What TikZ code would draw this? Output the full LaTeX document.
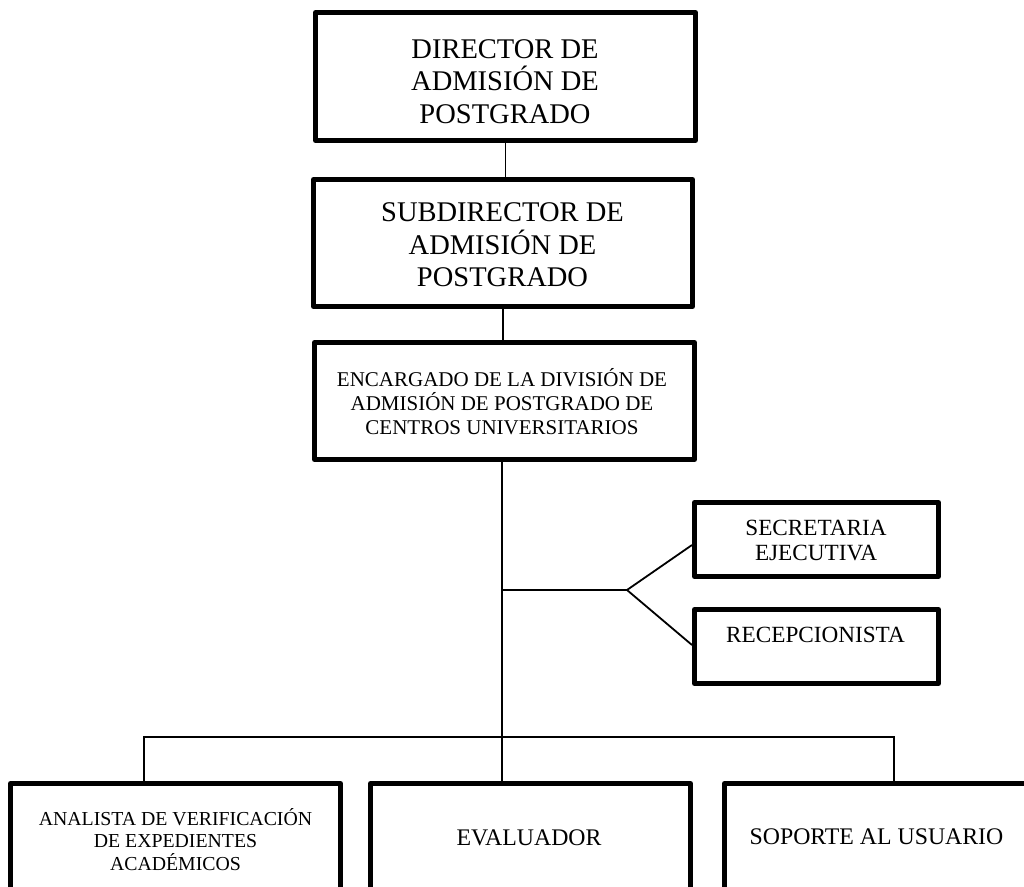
\documentclass[tikz,border=0pt]{standalone}
\usepackage{fontspec}
\setmainfont{Liberation Serif}
\begin{document}
\begin{tikzpicture}[x=1pt,y=-1pt,
  box/.style={draw, line width=5pt, line join=round, rectangle, inner sep=0pt},
  conn/.style={draw, line width=1.8pt},
  txt/.style={align=center, inner sep=0pt},
  fbig/.style={font=\fontsize{28.5}{32.5}\selectfont},
  fmid/.style={font=\fontsize{21}{24}\selectfont},
  fsec/.style={font=\fontsize{23.2}{25}\selectfont},
  fana/.style={font=\fontsize{19.8}{22.5}\selectfont},
  fbot/.style={font=\fontsize{23.8}{26}\selectfont}]
\useasboundingbox (0,0) rectangle (1024,886);
\fill[white] (0,0) rectangle (1024,886);
\clip (0,0) rectangle (1024,886);

% boxes
\node[box, minimum width=380pt, minimum height=128pt] (dir) at (505.5,76.5) {};
\node[box, minimum width=379pt, minimum height=127pt] (sub) at (503,243) {};
\node[box, minimum width=380pt, minimum height=117pt] (enc) at (504.5,401) {};
\node[box, minimum width=244pt, minimum height=74pt] (sec) at (816.5,539.5) {};
\node[box, minimum width=244pt, minimum height=74pt] (rec) at (816.5,646.5) {};
\node[box, minimum width=330pt, minimum height=140pt] (ana) at (175.5,853.5) {};
\node[box, minimum width=320pt, minimum height=140pt] (eva) at (530.5,853.5) {};
\node[box, minimum width=306pt, minimum height=140pt] (sop) at (877.5,853.5) {};

% texts
\node[txt, fbig] (dirt) at (505,81.5) {DIRECTOR DE\\ADMISIÓN DE\\POSTGRADO};
\node[txt, fbig] (subt) at (502.5,245) {SUBDIRECTOR DE\\ADMISIÓN DE\\POSTGRADO};
\node[txt, fmid] (enct) at (502,402) {ENCARGADO DE LA DIVISIÓN DE\\ADMISIÓN DE POSTGRADO DE\\CENTROS UNIVERSITARIOS};
\node[txt, fsec] (sect) at (816,540.5) {SECRETARIA\\EJECUTIVA};
\node[txt, fsec] (rect) at (815.5,635) {RECEPCIONISTA};
\node[txt, fana] (anat) at (175.5,839.5) {ANALISTA DE VERIFICACIÓN\\DE EXPEDIENTES\\ACADÉMICOS};
\node[txt, fbot] (evat) at (529,838) {EVALUADOR};
\node[txt, fbot] (sopt) at (876.5,837) {SOPORTE AL USUARIO};

% connector coordinates
\coordinate (spine) at (502,0);
\coordinate (fork) at (627,590);
\coordinate (dA) at (144,737);
\coordinate (dS) at (894,737);

% connectors
\draw[conn] (dir.south) -- (dir.south |- sub.north);
\draw[conn] (sub.south) -- (sub.south |- enc.north);
\draw[conn] (spine |- enc.south) -- (spine |- eva.north);
\draw[conn] (spine |- fork) -- (fork) -- ([yshift=-5.5pt]sec.west);
\draw[conn] (fork) -- ([yshift=1.5pt]rec.west);
\draw[conn] (dA |- ana.north) -- (dA) -- (dS) -- (dS |- sop.north);
\end{tikzpicture}
\end{document}
